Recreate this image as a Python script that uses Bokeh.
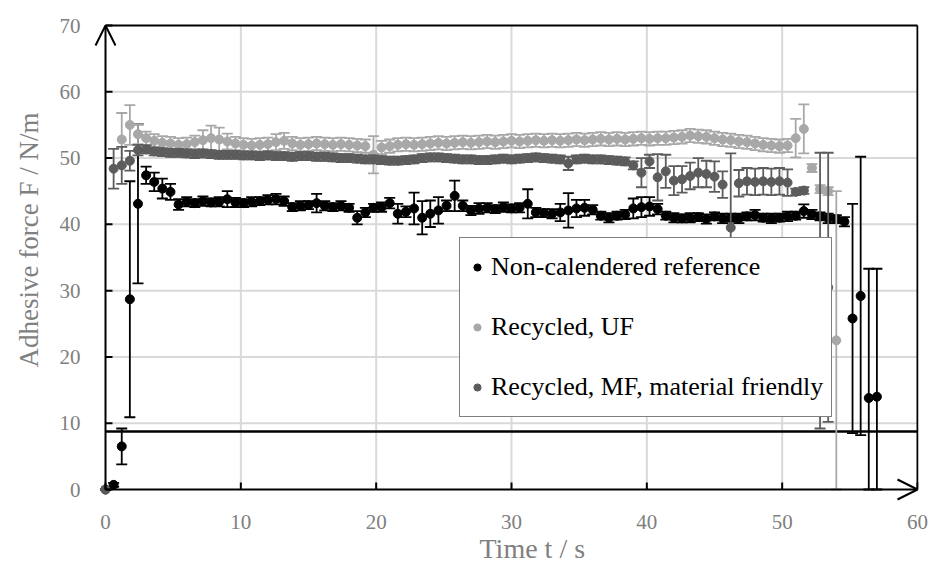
import numpy as np
from bokeh.plotting import figure
from bokeh.models import (Arrow, OpenHead, Legend, LegendItem, FixedTicker,
                          ColumnDataSource, Title)
from bokeh.embed import file_html
from bokeh.resources import INLINE

nan = float("nan")

TIME = [0.0, 0.6, 1.2, 1.8, 2.4, 3.0, 3.6, 4.2, 4.8, 5.4,
        6.0, 6.6, 7.2, 7.8, 8.4, 9.0, 9.6, 10.2, 10.8, 11.4,
        12.0, 12.6, 13.2, 13.8, 14.4, 15.0, 15.6, 16.2, 16.8, 17.4,
        18.0, 18.6, 19.2, 19.8, 20.4, 21.0, 21.6, 22.2, 22.8, 23.4,
        24.0, 24.6, 25.2, 25.8, 26.4, 27.0, 27.6, 28.2, 28.8, 29.4,
        30.0, 30.6, 31.2, 31.8, 32.4, 33.0, 33.6, 34.2, 34.8, 35.4,
        36.0, 36.6, 37.2, 37.8, 38.4, 39.0, 39.6, 40.2, 40.8, 41.4,
        42.0, 42.6, 43.2, 43.8, 44.4, 45.0, 45.6, 46.2, 46.8, 47.4,
        48.0, 48.6, 49.2, 49.8, 50.4, 51.0, 51.6, 52.2, 52.8, 53.4,
        54.0, 54.6, 55.2, 55.8, 56.4, 57.0]

# Non-calendered reference
REF_F = [0.0, 0.7, 6.5, 28.7, 43.1, 47.4, 46.4, 45.4, 44.9, 43.0,
         43.4, 43.2, 43.5, 43.3, 43.4, 43.8, 43.3, 43.2, 43.4, 43.5,
         43.7, 43.8, 43.5, 42.6, 42.8, 42.9, 43.2, 42.8, 42.6, 42.8,
         42.5, 41.0, 41.8, 42.5, 42.6, 43.2, 41.6, 41.9, 42.4, 41.0,
         41.6, 42.1, 42.8, 44.3, 42.8, 42.1, 42.4, 42.5, 42.3, 42.6,
         42.4, 42.5, 43.1, 41.8, 41.7, 41.6, 41.8, 42.1, 42.4, 42.5,
         42.2, 41.3, 41.0, 41.3, 41.5, 42.4, 42.6, 42.7, 42.3, 41.3,
         41.0, 40.9, 41.0, 41.1, 40.8, 41.2, 40.9, 41.0, 40.9, 41.2,
         41.4, 41.0, 40.9, 41.0, 41.2, 41.3, 42.0, 41.5, 41.2, 40.9,
         40.8, 40.4, 25.8, 29.2, 13.8, 14.0]
REF_ERR = [0.0, 0.3, 2.7, 17.8, 12.0, 1.3, 1.4, 1.5, 1.2, 0.8,
           0.7, 0.6, 0.7, 0.6, 0.7, 1.2, 0.7, 0.6, 0.7, 0.6,
           0.7, 0.8, 0.7, 0.6, 0.7, 0.6, 1.4, 0.7, 0.6, 0.7,
           0.6, 1.0, 0.7, 0.6, 0.7, 0.8, 1.5, 0.8, 2.4, 2.5,
           2.0, 2.0, 0.8, 2.3, 0.8, 0.7, 0.8, 0.7, 0.6, 0.7,
           0.6, 0.7, 2.2, 0.7, 0.6, 0.7, 1.3, 2.6, 1.3, 1.2,
           0.7, 0.6, 0.7, 0.6, 0.7, 1.5, 1.5, 1.4, 0.8, 0.6,
           0.7, 0.6, 0.7, 0.6, 0.7, 0.6, 0.7, 0.6, 0.7, 0.6,
           0.8, 0.6, 0.7, 0.6, 0.7, 0.6, 1.0, 0.7, 0.6, 0.7,
           0.6, 0.7, 17.3, 21.0, 19.5, 19.3]

# Recycled, UF
UF_F = [nan, nan, 52.8, 55.0, 53.6, 53.0, 52.6, 52.3, 52.2, 52.0,
        52.1, 52.4, 52.7, 53.0, 52.8, 52.5, 52.2, 52.0, 51.9, 52.0,
        52.1, 52.4, 52.6, 52.2, 52.0, 52.1, 52.2, 52.1, 52.0, 52.1,
        52.0, 51.9, 51.8, 50.5, 51.6, 51.8, 52.0, 52.1, 52.0, 52.1,
        52.2, 52.3, 52.2, 52.3, 52.4, 52.3, 52.4, 52.5, 52.4, 52.5,
        52.6, 52.5, 52.6, 52.7, 52.6, 52.7, 52.6, 52.7, 52.8, 52.7,
        52.8, 52.9, 52.8, 52.9, 52.8, 52.9, 53.0, 52.9, 53.0, 53.0,
        53.1, 53.2, 53.4, 53.3, 53.2, 53.0, 52.8, 52.7, 52.5, 52.4,
        52.2, 52.0, 51.9, 51.8, 51.9, 53.0, 54.4, 48.5, 45.3, 45.0,
        22.5]
UF_ERR = [0.0, 0.0, 4.0, 3.0, 1.5, 1.0, 1.0, 1.0, 1.0, 1.0,
          1.0, 1.0, 1.5, 1.9, 1.8, 1.2, 1.0, 1.0, 1.0, 1.0,
          1.0, 1.2, 1.2, 1.0, 1.0, 1.0, 1.0, 1.0, 1.0, 1.0,
          1.0, 1.0, 1.0, 2.8, 1.0, 1.0, 1.0, 1.0, 1.0, 1.0,
          1.0, 1.0, 1.0, 1.0, 1.0, 1.0, 1.0, 1.0, 1.0, 1.0,
          1.0, 1.0, 1.0, 1.0, 1.0, 1.0, 1.0, 1.0, 1.0, 1.0,
          1.0, 1.0, 1.0, 1.0, 1.0, 1.0, 1.0, 1.0, 1.0, 1.0,
          1.0, 1.0, 1.0, 1.0, 1.0, 1.0, 1.0, 1.0, 1.0, 1.0,
          1.0, 1.0, 1.0, 1.0, 1.0, 2.9, 3.7, 0.6, 0.6, 0.6,
          22.5]

# Recycled, MF, material friendly
MF_F = [0.0, 48.4, 48.9, 49.6, 51.2, 51.3, 51.0, 50.9, 50.8, 50.8,
        50.7, 50.6, 50.7, 50.6, 50.5, 50.5, 50.5, 50.4, 50.4, 50.3,
        50.4, 50.3, 50.3, 50.2, 50.3, 50.3, 50.2, 50.2, 50.1, 50.0,
        50.0, 49.9, 49.8, 49.8, 49.7, 49.6, 49.6, 49.7, 49.8, 50.0,
        50.1, 50.1, 50.0, 49.9, 49.8, 49.8, 49.7, 49.7, 49.8, 49.9,
        49.8, 49.9, 50.0, 50.1, 50.0, 49.9, 49.8, 49.2, 49.8, 49.9,
        49.8, 49.8, 49.7, 49.6, 49.5, 48.9, 47.8, 49.5, 47.1, 48.0,
        46.6, 46.8, 47.3, 47.8, 47.6, 47.2, 46.0, 39.5, 46.2, 46.5,
        46.4, 46.5, 46.4, 46.5, 46.3, 44.9, 45.1, nan, 30.0, 30.5]
MF_ERR = [0.0, 3.0, 2.8, 1.5, 0.8, 0.6, 0.6, 0.6, 0.6, 0.6,
          0.6, 0.6, 0.6, 0.6, 0.6, 0.6, 0.6, 0.6, 0.6, 0.6,
          0.6, 0.6, 0.6, 0.6, 0.6, 0.6, 0.6, 0.6, 0.6, 0.6,
          0.6, 0.6, 0.6, 0.6, 0.6, 0.6, 0.6, 0.6, 0.6, 0.6,
          0.6, 0.6, 0.6, 0.6, 0.6, 0.6, 0.6, 0.6, 0.6, 0.6,
          0.6, 0.6, 0.6, 0.6, 0.6, 0.6, 0.6, 1.0, 0.6, 0.6,
          0.6, 0.6, 0.6, 0.6, 0.6, 0.6, 2.2, 1.0, 3.5, 2.5,
          2.2, 2.0, 2.0, 2.2, 2.0, 2.3, 2.0, 11.2, 2.0, 2.0,
          2.0, 2.0, 2.0, 2.0, 2.0, 0.5, 0.5, 0.0, 20.8, 20.3]

LABELS = ["Non-calendered reference", "Recycled, UF",
          "Recycled, MF, material friendly"]
COLORS = ["#000000", "#a8a8a8", "#5c5c5c"]
X_TICKS = [0, 10, 20, 30, 40, 50, 60]
Y_TICKS = [0, 10, 20, 30, 40, 50, 60, 70]
X_MIN, X_MAX = 0, 60
Y_MIN, Y_MAX = 0, 70
THRESHOLD = 8.75
X_TITLE = "Time t / s"
Y_TITLE = "Adhesive force F / N/m"

FONT = "Liberation Serif"
GRID = "#d9d9d9"
GRAY_TEXT = "#808080"

# frame slightly larger than the data box so arrow heads are not clipped
p = figure(width=934, height=567,
           x_range=(-0.887, 60.074), y_range=(-1.810, 70.453),
           output_backend="svg", toolbar_location=None,
           min_border_left=93, min_border_right=16, min_border_top=22,
           min_border_bottom=66)
p.background_fill_color = "white"
p.border_fill_color = "white"
p.outline_line_color = None
p.xgrid.visible = False
p.ygrid.visible = False

p.xaxis.ticker = FixedTicker(ticks=X_TICKS)
p.yaxis.ticker = FixedTicker(ticks=Y_TICKS)
for ax in (p.xaxis, p.yaxis):
    ax.axis_line_color = None
    ax.major_tick_line_color = None
    ax.minor_tick_line_color = None
    ax.major_tick_in = 0
    ax.major_tick_out = 0
    ax.major_label_text_font = FONT
    ax.major_label_text_font_size = "21px"
    ax.major_label_text_color = GRAY_TEXT
p.xaxis.major_label_standoff = 13
p.yaxis.major_label_standoff = 13

# axis titles (offset like in the original)
ytitle = Title(text=Y_TITLE, align="left", offset=134, standoff=22,
               vertical_align="top",
               text_font=FONT, text_font_size="27px",
               text_font_style="normal", text_color=GRAY_TEXT)
p.add_layout(ytitle, "left")
xtitle = Title(text=X_TITLE, align="left", offset=386, standoff=-2,
               text_font=FONT, text_font_size="28px",
               text_font_style="normal", text_color=GRAY_TEXT)
p.add_layout(xtitle, "below")

# light grid inside the data box
gx = [t for t in X_TICKS if X_MIN < t < X_MAX]
gy = [t for t in Y_TICKS if Y_MIN < t < Y_MAX]
p.segment(x0=gx, y0=[Y_MIN] * len(gx), x1=gx, y1=[Y_MAX] * len(gx),
          line_color=GRID, line_width=2)
p.segment(x0=[X_MIN] * len(gy), y0=gy, x1=[X_MAX] * len(gy), y1=gy,
          line_color=GRID, line_width=2)

# top / right border of the data box and the horizontal reference line
p.segment(x0=[X_MIN, X_MAX], y0=[Y_MAX, Y_MIN], x1=[X_MAX, X_MAX],
          y1=[Y_MAX, Y_MAX], line_color="black", line_width=2)
p.segment(x0=[X_MIN], y0=[THRESHOLD], x1=[X_MAX], y1=[THRESHOLD],
          line_color="black", line_width=2.5)

series = [(REF_F, REF_ERR), (UF_F, UF_ERR), (MF_F, MF_ERR)]
renderers = []
for (vals, errs), color in zip(series, COLORS):
    y = np.array(vals, dtype=float)
    e = np.array(errs, dtype=float)
    t = np.array(TIME[:len(y)], dtype=float)
    src = ColumnDataSource(dict(t=t, y=y, up=y + e,
                                lo=np.maximum(y - e, Y_MIN)))
    p.segment(x0="t", y0="lo", x1="t", y1="up", source=src,
              line_color=color, line_width=1.8)
    p.scatter(x="t", y="up", source=src, marker="dash", size=11,
              line_color=color, line_width=1.8)
    p.scatter(x="t", y="lo", source=src, marker="dash", size=11,
              line_color=color, line_width=1.8)
    r = p.scatter(x="t", y="y", source=src, marker="circle", size=9,
                  fill_color=color, line_color=color)
    renderers.append(r)

# inward tick marks on the axes
p.ray(x=[X_MIN] * len(Y_TICKS), y=Y_TICKS, length=7, length_units="screen",
      angle=0, line_color="black", line_width=2)
p.ray(x=X_TICKS, y=[Y_MIN] * len(X_TICKS), length=7, length_units="screen",
      angle=np.pi / 2, line_color="black", line_width=2)

# axes drawn as arrows
p.add_layout(Arrow(end=OpenHead(size=20, line_width=2, line_color="black"),
                   x_start=X_MIN, y_start=Y_MIN, x_end=X_MIN, y_end=Y_MAX,
                   line_color="black", line_width=2))
p.add_layout(Arrow(end=OpenHead(size=20, line_width=2, line_color="black"),
                   x_start=X_MIN, y_start=Y_MIN, x_end=X_MAX, y_end=Y_MIN,
                   line_color="black", line_width=2))

legend = Legend(items=[LegendItem(label=lab, renderers=[r])
                       for lab, r in zip(LABELS, renderers)],
                location=(366, 84))
legend.border_line_color = "black"
legend.border_line_width = 1.5
legend.background_fill_color = "white"
legend.background_fill_alpha = 1.0
legend.label_text_font = FONT
legend.label_text_font_size = "26px"
legend.label_text_color = "black"
legend.glyph_width = 18
legend.glyph_height = 18
legend.label_height = 42
legend.label_standoff = 5
legend.padding = 8
legend.spacing = 18
legend.margin = 0
p.add_layout(legend)

open("out.html", "w").write(file_html(p, INLINE))
